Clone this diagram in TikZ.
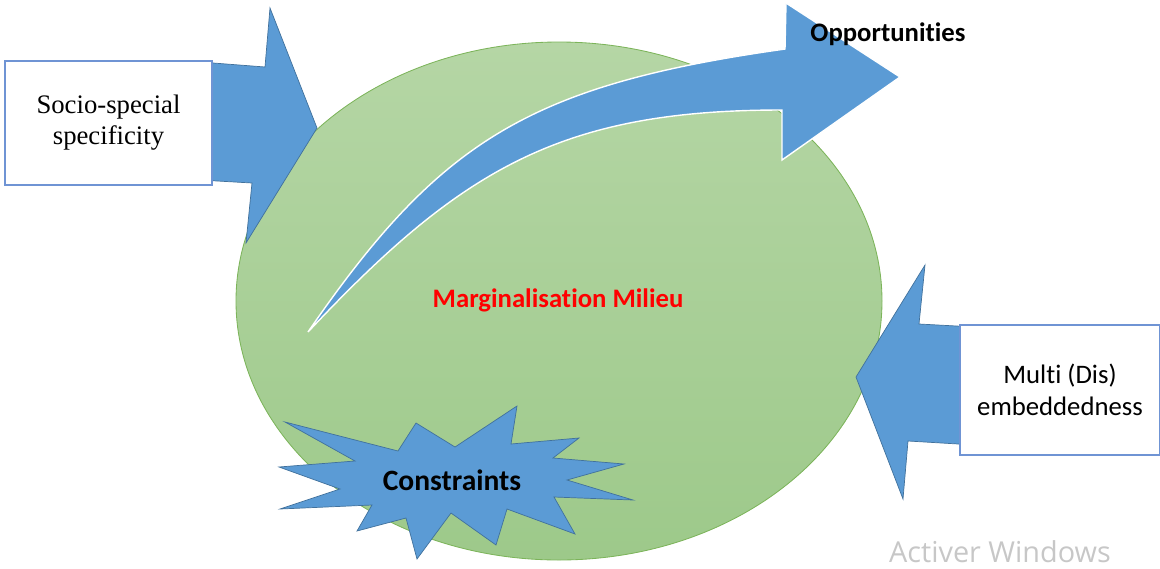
\documentclass[tikz,border=0pt]{standalone}
\usepackage{fontspec}
\setmainfont{Liberation Serif}
\newfontfamily\calib[Ligatures=CommonOff]{Carlito}
\newfontfamily\segoe{Open Sans}
\definecolor{arrowblue}{HTML}{5B9BD5}
\definecolor{arrowedge}{HTML}{41719C}
\definecolor{greentop}{HTML}{B5D6A5}
\definecolor{greenbot}{HTML}{9DC98A}
\definecolor{greenedge}{HTML}{7CB45A}
\definecolor{boxedge}{HTML}{6F94D4}
\begin{document}
\begin{tikzpicture}[x=0.025cm,y=-0.025cm,
  blk/.style={fill=arrowblue,draw=arrowedge,line width=0.5pt,line join=miter},
  box/.style={draw=boxedge,fill=white,line width=0.8pt,align=center,inner sep=0pt}]

\useasboundingbox (0,0) rectangle (1160,568);

\path[top color=greentop,bottom color=greenbot,draw=greenedge,line width=0.6pt] (559,301) ellipse [x radius=323,y radius=259];

\draw[blk] (200,62) -- (265,67) -- (270,8) -- (317,128) -- (246,243) -- (252,183) -- (200,180) -- cycle;
\node[box,minimum width=5.175cm,minimum height=3.1cm,font=\fontsize{19}{22}\selectfont] (soc) at (108.5,123) {Socio-special\\specificity};

\draw[blk] (975,327) -- (919,324) -- (925,265) -- (856,377) -- (903,499) -- (908,441) -- (975,445) -- cycle;
\node[box,minimum width=5cm,minimum height=3.25cm,font=\calib\fontsize{19}{22.5}\selectfont] (mul) at (1060,390) {Multi (Dis)\\embeddedness};

\draw[blk] (285,422) -- (398,451) -- (416,423) -- (455,447) -- (517,406) -- (511,444) -- (579,438) -- (553,458) -- (624,464) -- (567,480) -- (633,500) -- (554,497) -- (575,534) -- (507,509) -- (496,545) -- (451,513) -- (417,559) -- (406,518) -- (357,531) -- (372,505) -- (280,509) -- (340,489) -- (279,467) -- (355,461) -- cycle;

\path[fill=arrowblue,draw=white,line width=1pt,line join=miter] (308,332) .. controls (440,140) and (530,85) .. (785,49) -- (786,3) -- (900,77) -- (782,160) -- (782,110) .. controls (562,110) and (462,168) .. (308,332) -- cycle;

\node[text=red,font=\calib\bfseries\fontsize{19}{22}\selectfont] (mil) at (558,300) {Marginalisation Milieu};
\node[font=\calib\bfseries\fontsize{19}{22}\selectfont] (opp) at (888,34) {Opportunities};
\node[font=\calib\bfseries\fontsize{21}{24}\selectfont] (con) at (452,480) {Constraints};
\node[text=black!22,font=\segoe\fontsize{20.5}{24}\selectfont] (win) at (1000,552) {Activer Windows};
\end{tikzpicture}
\end{document}
